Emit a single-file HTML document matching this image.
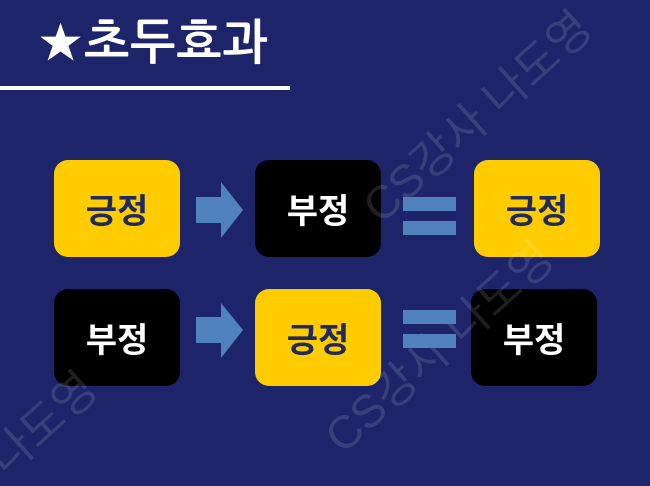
<!DOCTYPE html>
<html><head><meta charset="utf-8"><style>
html,body{margin:0;padding:0;overflow:hidden;width:650px;height:486px}
body{background:#1e246a;position:relative;font-family:"Liberation Sans","Noto Sans CJK KR",sans-serif}
.t{position:absolute;left:38px;top:16px;color:#fff;font-size:48px;font-weight:bold;white-space:nowrap;letter-spacing:1px;font-family:"Liberation Sans","NanumGothic","Noto Sans CJK KR",sans-serif}
.line{position:absolute;left:0;top:86px;width:290px;height:4px;background:#fff}
.b{position:absolute;width:126px;height:97px;border-radius:14px;display:flex;align-items:center;justify-content:center;font-size:34px;font-weight:bold}
.y{background:#ffcc00;color:#1f2a5e}
.k{background:#000;color:#fff}
.bar{position:absolute;background:#4f81bd;width:53px;height:14px}
.wm{position:absolute;color:rgba(255,255,255,0.12);font-size:46px;white-space:nowrap;transform-origin:left center;transform:rotate(-42deg);font-family:"Liberation Sans","Noto Sans CJK KR",sans-serif;font-weight:normal}
</style></head><body>
<div class="t">★초두효과</div>
<div class="line"></div>

<div class="b y" style="left:54px;top:160px">긍정</div>
<div class="b k" style="left:255px;top:160px">부정</div>
<div class="b y" style="left:474px;top:160px">긍정</div>

<div class="b k" style="left:54px;top:289px">부정</div>
<div class="b y" style="left:255px;top:289px">긍정</div>
<div class="b k" style="left:471px;top:289px">부정</div>

<div class="wm" style="left:368px;top:178px">CS강사 나도영</div>
<div class="wm" style="left:330px;top:408px">CS강사 나도영</div>

<svg style="position:absolute;left:0;top:0" width="650" height="486">
<text x="6" y="478" transform="rotate(-42 6 478)" font-size="46" fill="rgba(255,255,255,0.12)" font-family="Liberation Sans, Noto Sans CJK KR, sans-serif">나도영</text>
<polygon points="196,197 221,197 221,182 243,210 221,238 221,223 196,223" fill="#4f81bd"/>
<polygon points="196,317 221,317 221,303 243,330 221,358 221,343 196,343" fill="#4f81bd"/>
</svg>
<div class="bar" style="left:403px;top:197px"></div>
<div class="bar" style="left:403px;top:221px"></div>
<div class="bar" style="left:403px;top:310px"></div>
<div class="bar" style="left:403px;top:334px"></div>
</body></html>
